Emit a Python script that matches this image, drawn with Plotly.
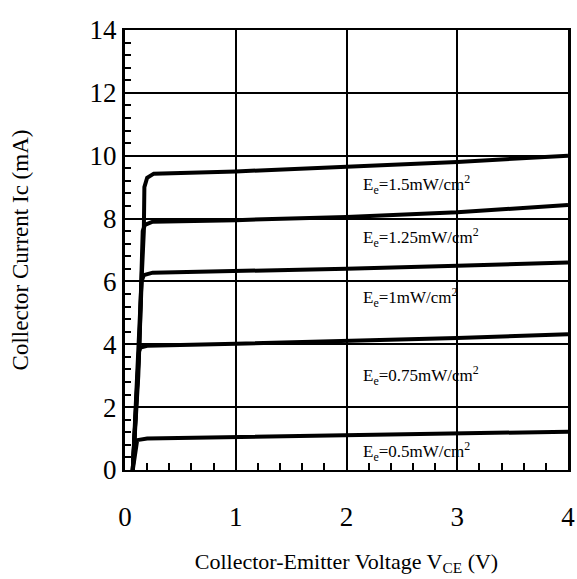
import plotly.graph_objects as go

# Irradiance labels (top to bottom)
labels = ["E<sub>e</sub>=1.5mW/cm<sup>2</sup>",
          "E<sub>e</sub>=1.25mW/cm<sup>2</sup>",
          "E<sub>e</sub>=1mW/cm<sup>2</sup>",
          "E<sub>e</sub>=0.75mW/cm<sup>2</sup>",
          "E<sub>e</sub>=0.5mW/cm<sup>2</sup>"]
label_y = [9.1, 7.4, 5.5, 3.0, 0.6]
label_x = 2.13

# Curves: collector-emitter voltage (V) vs collector current (mA)
vce_1 = [0.07, 0.14, 0.17, 0.175, 0.2, 0.26, 0.5, 1, 2, 3, 4]
ic_1 = [0, 5.0, 7.6, 9.0, 9.3, 9.43, 9.45, 9.5, 9.65, 9.8, 10.0]
vce_2 = [0.07, 0.13, 0.16, 0.18, 0.25, 1, 2, 3, 4]
ic_2 = [0, 4.0, 7.6, 7.8, 7.9, 7.95, 8.05, 8.2, 8.43]
vce_3 = [0.07, 0.12, 0.15, 0.17, 0.25, 1, 2, 3, 4]
ic_3 = [0, 3.0, 6.0, 6.2, 6.28, 6.33, 6.4, 6.5, 6.6]
vce_4 = [0.07, 0.10, 0.125, 0.14, 0.2, 1, 2, 3, 4]
ic_4 = [0, 2.0, 3.75, 3.9, 3.95, 4.02, 4.1, 4.2, 4.32]
vce_5 = [0.07, 0.09, 0.11, 0.2, 1, 2, 3, 4]
ic_5 = [0, 0.6, 0.95, 1.0, 1.05, 1.1, 1.15, 1.22]

series = [(vce_1, ic_1), (vce_2, ic_2), (vce_3, ic_3), (vce_4, ic_4), (vce_5, ic_5)]

fig = go.Figure()
for vx, iy in series:
    fig.add_trace(go.Scatter(x=vx, y=iy, mode="lines",
                             line=dict(color="black", width=4),
                             showlegend=False, hoverinfo="skip"))

for t, yv in zip(labels, label_y):
    fig.add_annotation(x=label_x, y=yv, text=t, showarrow=False,
                       xanchor="left", yanchor="middle",
                       font=dict(family="Liberation Serif", size=17, color="black"))

font_main = "Liberation Serif"
fig.update_layout(
    width=577, height=579,
    margin=dict(l=125, r=9, t=30, b=109),
    paper_bgcolor="white", plot_bgcolor="white",
    xaxis=dict(range=[0, 4], dtick=1, showgrid=True, gridcolor="black", gridwidth=1.5,
               showline=True, linecolor="black", linewidth=2, mirror=True,
               ticks="inside", ticklen=8, tickcolor="black", tickwidth=1.5,
               minor=dict(dtick=0.2, ticks="inside", ticklen=7, tickcolor="black", tickwidth=1.5, showgrid=False),
               tickfont=dict(family=font_main, size=27, color="black"),
               ticklabelstandoff=22, automargin=False,
               zeroline=False,
               title=dict(text="Collector-Emitter Voltage V<sub>CE</sub> (V)",
                          font=dict(family=font_main, size=22, color="black"), standoff=22)),
    yaxis=dict(range=[0, 14], dtick=2, showgrid=True, gridcolor="black", gridwidth=1.5,
               showline=True, linecolor="black", linewidth=3, mirror=True,
               ticks="inside", ticklen=8, tickcolor="black", tickwidth=1.5,
               minor=dict(dtick=0.4, ticks="inside", ticklen=6, tickcolor="black", tickwidth=1.5, showgrid=False),
               tickfont=dict(family=font_main, size=27, color="black"),
               automargin=False,
               zeroline=False,
               title=dict(text="Collector Current Ic (mA)",
                          font=dict(family=font_main, size=23, color="black"), standoff=55)),
)

fig.write_html("out.html",
               config={"displayModeBar": False},
               post_script="document.body.style.margin='0';document.body.style.overflow='hidden';")
